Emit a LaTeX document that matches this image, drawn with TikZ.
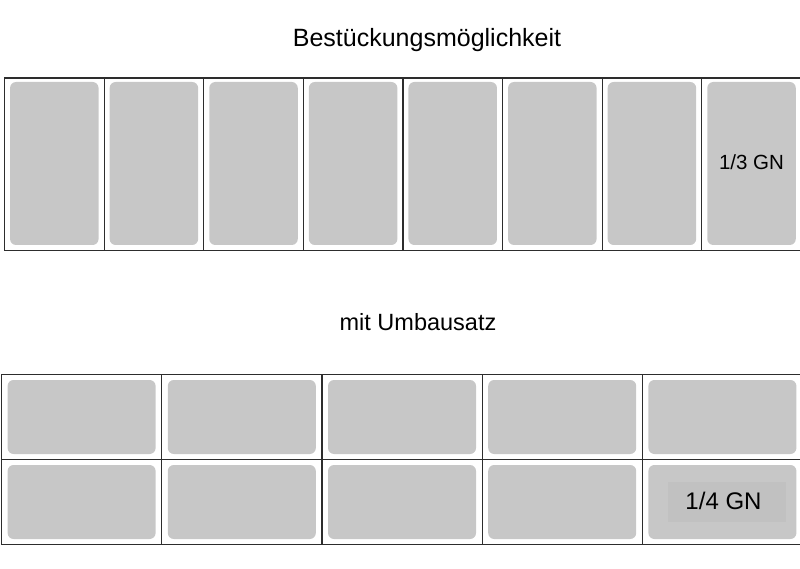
\documentclass[tikz,border=0pt]{standalone}
\usepackage{fontspec}
\setmainfont{Liberation Sans}
\definecolor{pan}{RGB}{199,199,199}
\definecolor{pandark}{RGB}{193,193,193}
\definecolor{gridline}{RGB}{45,45,45}
\begin{document}
\begin{tikzpicture}[x=1pt,y=-1pt,
  cellbox/.style={draw=gridline,line width=1.1pt,inner sep=0pt,anchor=north west},
  panbox/.style={fill=pan,rounded corners=6pt,inner sep=0pt},
  title/.style={anchor=base,inner sep=0pt}]
\useasboundingbox (0,0) rectangle (800,569);
% titles
\node[title,font=\fontsize{25}{30}\selectfont] (t1) at (427,47) {Bestückungsmöglichkeit};
\node[title,font=\fontsize{23.5}{28}\selectfont] (t2) at (418,330) {mit Umbausatz};
% top row: 1/3 GN
\foreach \i in {0,...,7}{
  \node[cellbox,minimum width=99.6pt,minimum height=172.5pt] (tc\i) at ({4+99.6*\i},77.5) {};
  \node[panbox,minimum width=88.5pt,minimum height=163pt] (tp\i) at ({4+99.6*(\i+0.5)+0.5},163.5) {};
}
\node[title,font=\fontsize{20.5}{24}\selectfont] (l1) at (751.5,170) {1/3 GN};
% bottom rows: 1/4 GN
\foreach \r in {0,1}{
  \foreach \c in {0,...,4}{
    \node[cellbox,minimum width=160.2pt,minimum height=85pt] (bc\r\c) at ({1+160.2*\c},{374+85*\r}) {};
    \node[panbox,minimum width=148pt,minimum height=74pt] (bp\r\c) at ({1+160.2*(\c+0.5)+0.5},{374+85*\r+42.5+0.5}) {};
  }
}
\node[fill=pandark,inner sep=0pt,minimum width=118pt,minimum height=40pt] (lb) at (727,502) {};
\node[title,font=\fontsize{24}{28}\selectfont] (l2) at (723.5,509) {1/4 GN};
\end{tikzpicture}
\end{document}
